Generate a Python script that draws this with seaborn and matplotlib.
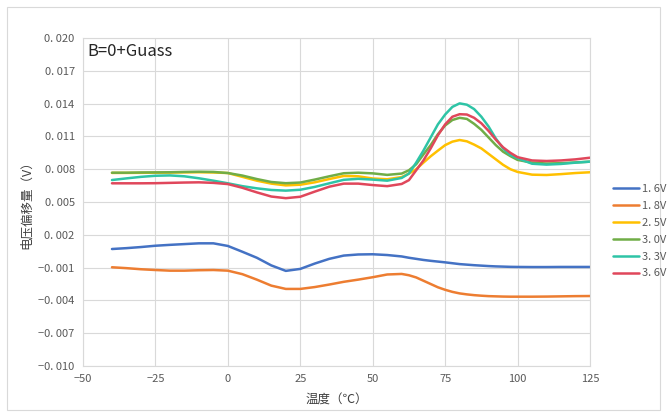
import matplotlib
matplotlib.use("Agg")
import matplotlib.pyplot as plt
import seaborn as sns
import pandas as pd
from matplotlib.patches import Rectangle
from matplotlib.ticker import FixedLocator, FuncFormatter

# ---------------- data ----------------
temps = [-40, -35, -30, -25, -20, -15, -10, -5, 0, 5, 10, 15, 20, 25, 30, 35, 40,
         45, 50, 55, 60, 62.5, 65, 67.5, 70, 72.5, 75, 77.5, 80, 82.5, 85, 87.5, 90,
         92.5, 95, 97.5, 100, 105, 110, 115, 120, 125]

v16 = [0.00070, 0.00078, 0.00088, 0.00100, 0.00108, 0.00115, 0.00122, 0.00122, 0.00098,
       0.00045, -0.00010, -0.00080, -0.00130, -0.00112, -0.00063, -0.00020, 0.00010,
       0.00020, 0.00022, 0.00015, 0.00002, -0.00010, -0.00020, -0.00030, -0.00038,
       -0.00045, -0.00052, -0.00060, -0.00068, -0.00073, -0.00078, -0.00082, -0.00086,
       -0.00089, -0.00091, -0.00093, -0.00094, -0.00095, -0.00095, -0.00094, -0.00094, -0.00094]
v18 = [-0.00097, -0.00105, -0.00115, -0.00122, -0.00128, -0.00128, -0.00124, -0.00122, -0.00128,
       -0.00160, -0.00210, -0.00265, -0.00295, -0.00295, -0.00278, -0.00255, -0.00230,
       -0.00210, -0.00188, -0.00163, -0.00158, -0.00170, -0.00190, -0.00220, -0.00250,
       -0.00280, -0.00303, -0.00322, -0.00336, -0.00345, -0.00352, -0.00357, -0.00361,
       -0.00363, -0.00365, -0.00366, -0.00366, -0.00366, -0.00365, -0.00363, -0.00361, -0.00360]
v25 = [0.00766, 0.00766, 0.00767, 0.00768, 0.00769, 0.00771, 0.00772, 0.00770, 0.00765,
       0.00730, 0.00695, 0.00668, 0.00652, 0.00658, 0.00680, 0.00710, 0.00738,
       0.00735, 0.00715, 0.00708, 0.00728, 0.00760, 0.00800, 0.00860, 0.00918,
       0.00970, 0.01020, 0.01052, 0.01067, 0.01055, 0.01025, 0.00990, 0.00940,
       0.00890, 0.00840, 0.00800, 0.00775, 0.00750, 0.00747, 0.00755, 0.00765, 0.00772]
v30 = [0.00768, 0.00768, 0.00770, 0.00771, 0.00772, 0.00775, 0.00777, 0.00775, 0.00765,
       0.00742, 0.00710, 0.00683, 0.00672, 0.00678, 0.00705, 0.00735, 0.00763,
       0.00768, 0.00762, 0.00748, 0.00760, 0.00790, 0.00845, 0.00935, 0.01020,
       0.01120, 0.01200, 0.01250, 0.01270, 0.01260, 0.01215, 0.01160, 0.01090,
       0.01020, 0.00960, 0.00920, 0.00885, 0.00860, 0.00852, 0.00855, 0.00862, 0.00869]
v33 = [0.00701, 0.00716, 0.00730, 0.00740, 0.00743, 0.00735, 0.00717, 0.00695, 0.00671,
       0.00645, 0.00625, 0.00610, 0.00604, 0.00612, 0.00638, 0.00671, 0.00703,
       0.00712, 0.00705, 0.00695, 0.00720, 0.00760, 0.00860, 0.00970, 0.01090,
       0.01210, 0.01300, 0.01370, 0.01402, 0.01390, 0.01350, 0.01280, 0.01190,
       0.01080, 0.00990, 0.00930, 0.00900, 0.00850, 0.00842, 0.00848, 0.00860, 0.00869]
v36 = [0.00671, 0.00671, 0.00671, 0.00672, 0.00675, 0.00678, 0.00680, 0.00675, 0.00664,
       0.00630, 0.00588, 0.00550, 0.00535, 0.00548, 0.00595, 0.00640, 0.00668,
       0.00668, 0.00655, 0.00645, 0.00665, 0.00700, 0.00790, 0.00880, 0.00990,
       0.01110, 0.01210, 0.01280, 0.01303, 0.01300, 0.01270, 0.01220, 0.01150,
       0.01070, 0.01000, 0.00950, 0.00910, 0.00880, 0.00875, 0.00880, 0.00890, 0.00905]

series_names = ["1. 6V", "1. 8V", "2. 5V", "3. 0V", "3. 3V", "3. 6V"]
series_values = [v16, v18, v25, v30, v33, v36]
colors = ["#4472C4", "#ED7D31", "#FFC000", "#70AD47", "#2EC4A6", "#E0475B"]

x_ticks = [-50, -25, 0, 25, 50, 75, 100, 125]
y_ticks = [-0.010, -0.007, -0.004, -0.001, 0.002, 0.005, 0.008, 0.011, 0.014, 0.017, 0.020]

title_text = "B=0+Guass"
x_label = "温度（℃）"
y_label = "电压偏移量（V）"

# ---------------- build table ----------------
rows = []
for name, vals in zip(series_names, series_values):
    for t, v in zip(temps, vals):
        rows.append({"temp": t, "value": v, "series": name})
df = pd.DataFrame(rows)

# ---------------- plot ----------------
sns.set_theme(style="white")
plt.rcParams["font.family"] = ["Noto Sans CJK SC", "DejaVu Sans"]

fig = plt.figure(figsize=(6.67, 4.17), dpi=100)
ax = fig.add_axes([83 / 667, 1 - 366 / 417, (590 - 83) / 667, (366 - 38) / 417])

sns.lineplot(data=df, x="temp", y="value", hue="series", hue_order=series_names,
             palette=colors, linewidth=1.8, ax=ax, legend=True)

ax.set_xlim(-50, 125)
ax.set_ylim(-0.010, 0.020)
ax.xaxis.set_major_locator(FixedLocator(x_ticks))
ax.yaxis.set_major_locator(FixedLocator(y_ticks))


def yfmt(v, pos):
    s = f"{abs(v):.3f}".replace(".", ". ")
    return ("−" if v < -1e-9 else "") + s


ax.yaxis.set_major_formatter(FuncFormatter(yfmt))
ax.xaxis.set_major_formatter(FuncFormatter(lambda v, p: ("−" if v < 0 else "") + f"{abs(int(v))}"))

grid_c = "#D9D9D9"
ax.grid(True, color=grid_c, linewidth=0.8)
ax.set_axisbelow(True)
for s in ax.spines.values():
    s.set_color(grid_c)
    s.set_linewidth(0.8)

ax.tick_params(axis="both", length=0, labelsize=8, colors="#595959", pad=6)
ax.set_xlabel(x_label, fontsize=9, color="#404040", labelpad=7)
ax.set_ylabel(y_label, fontsize=9, color="#404040", labelpad=4)

ax.text(0.008, 0.985, title_text, transform=ax.transAxes, ha="left", va="top",
        fontsize=12, color="#262626")

handles, labels = ax.get_legend_handles_labels()
ax.get_legend().remove()
fig.legend(handles, labels, loc="upper left", bbox_to_anchor=(603 / 667, 1 - 174 / 417),
           frameon=False, fontsize=8, handlelength=2.3, labelspacing=0.62,
           handletextpad=0.3, labelcolor="#595959")

fig.patches.append(Rectangle((7 / 667, 7 / 417), (660 - 7) / 667, (410 - 7) / 417,
                             transform=fig.transFigure, fill=False,
                             edgecolor="#D9D9D9", linewidth=0.8))

fig.savefig("out.png", dpi=100)
